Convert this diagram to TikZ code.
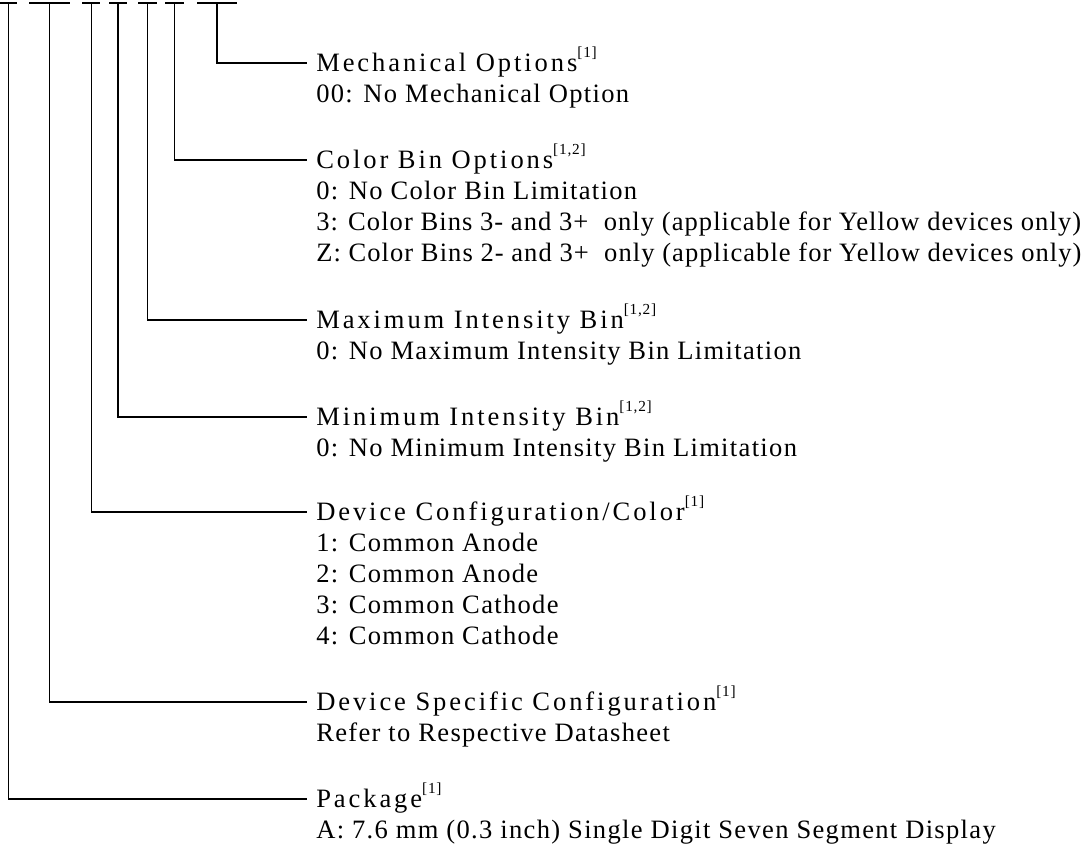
\documentclass[tikz,border=0pt]{standalone}
\usepackage{fontspec}
\setmainfont{Liberation Serif}
\newfontfamily\hdrfnt[LetterSpace=11]{Liberation Serif}
\newfontfamily\bodyfnt[LetterSpace=5]{Liberation Serif}
\newfontfamily\bodyfntn[LetterSpace=4]{Liberation Serif}
\newcommand{\supref}[1]{\raisebox{10.5pt}{\bodyfnt\fontsize{11.5pt}{11.5pt}\selectfont[#1]}}
\begin{document}
\begin{tikzpicture}[x=0.75pt,y=-0.75pt,
  ul/.style={line width=1.7pt},
  conn/.style={line width=0.8pt},
  hdr/.style={anchor=west, inner xsep=6.75pt, inner ysep=0pt, text height=13.2pt, text depth=0pt,
    font=\hdrfnt\fontsize{19.9pt}{24pt}\selectfont},
  body/.style={anchor=base west, inner sep=0pt, font=\bodyfnt\fontsize{19.9pt}{24pt}\selectfont},
  bodyn/.style={body, font=\bodyfntn\fontsize{19.9pt}{24pt}\selectfont}]
\useasboundingbox (0,0) rectangle (1090,848);
% underline segments
\draw[ul] (0,2.7) -- (17,2.7);
\draw[ul] (29,2.7) -- (70,2.7);
\draw[ul] (82,2.7) -- (100,2.7);
\draw[ul] (109,2.7) -- (127,2.7);
\draw[ul] (138,2.7) -- (157,2.7);
\draw[ul] (165,2.7) -- (184,2.7);
\draw[ul] (197,2.7) -- (237,2.7);
\coordinate (u1) at (8.5,2.7);
\coordinate (u2) at (49.5,2.7);
\coordinate (u3) at (91.5,2.7);
\coordinate (u4) at (118,2.7);
\coordinate (u5) at (147.5,2.7);
\coordinate (u6) at (174.5,2.7);
\coordinate (u7) at (217,2.7);
% headers
\node[hdr] (mech) at (307,63) {Mechanical Options\supref{1}};
\node[hdr] (cbin) at (307,160) {Color Bin Options\supref{1,2}};
\node[hdr] (maxi) at (307,320) {Maximum Intensity Bin\supref{1,2}};
\node[hdr] (mini) at (307,417) {Minimum Intensity Bin\supref{1,2}};
\node[hdr] (dcfg) at (307,512) {Device Configuration/Color\supref{1}};
\node[hdr] (dspc) at (307,702) {Device Specific Configuration\supref{1}};
\node[hdr] (pkg)  at (307,799) {Package\supref{1}};
% bodies
\node[body] (mechA) at (316,102.3) {00: No Mechanical Option};
\node[body] (cbinA) at (316,199.3) {0: No Color Bin Limitation};
\node[bodyn] (cbinB) at (316,230.3) {3: Color Bins 3- and 3+ \ only (applicable for Yellow devices only)};
\node[bodyn] (cbinC) at (316,261.3) {Z: Color Bins 2- and 3+ \ only (applicable for Yellow devices only)};
\node[body] (maxiA) at (316,359.3) {0: No Maximum Intensity Bin Limitation};
\node[body] (miniA) at (316,456.3) {0: No Minimum Intensity Bin Limitation};
\node[body] (dcfgA) at (316,551.3) {1: Common Anode};
\node[body] (dcfgB) at (316,582.3) {2: Common Anode};
\node[body] (dcfgC) at (316,613.3) {3: Common Cathode};
\node[body] (dcfgD) at (316,644.3) {4: Common Cathode};
\node[body] (dspcA) at (316,741.3) {Refer to Respective Datasheet};
\node[body] (pkgA)  at (316,838.3) {A: 7.6 mm (0.3 inch) Single Digit Seven Segment Display};
% connectors
\draw[conn] (u7) |- (mech.west);
\draw[conn] (u6) |- (cbin.west);
\draw[conn] (u5) |- (maxi.west);
\draw[conn] (u4) |- (mini.west);
\draw[conn] (u3) |- (dcfg.west);
\draw[conn] (u2) |- (dspc.west);
\draw[conn] (u1) |- (pkg.west);
\end{tikzpicture}
\end{document}
